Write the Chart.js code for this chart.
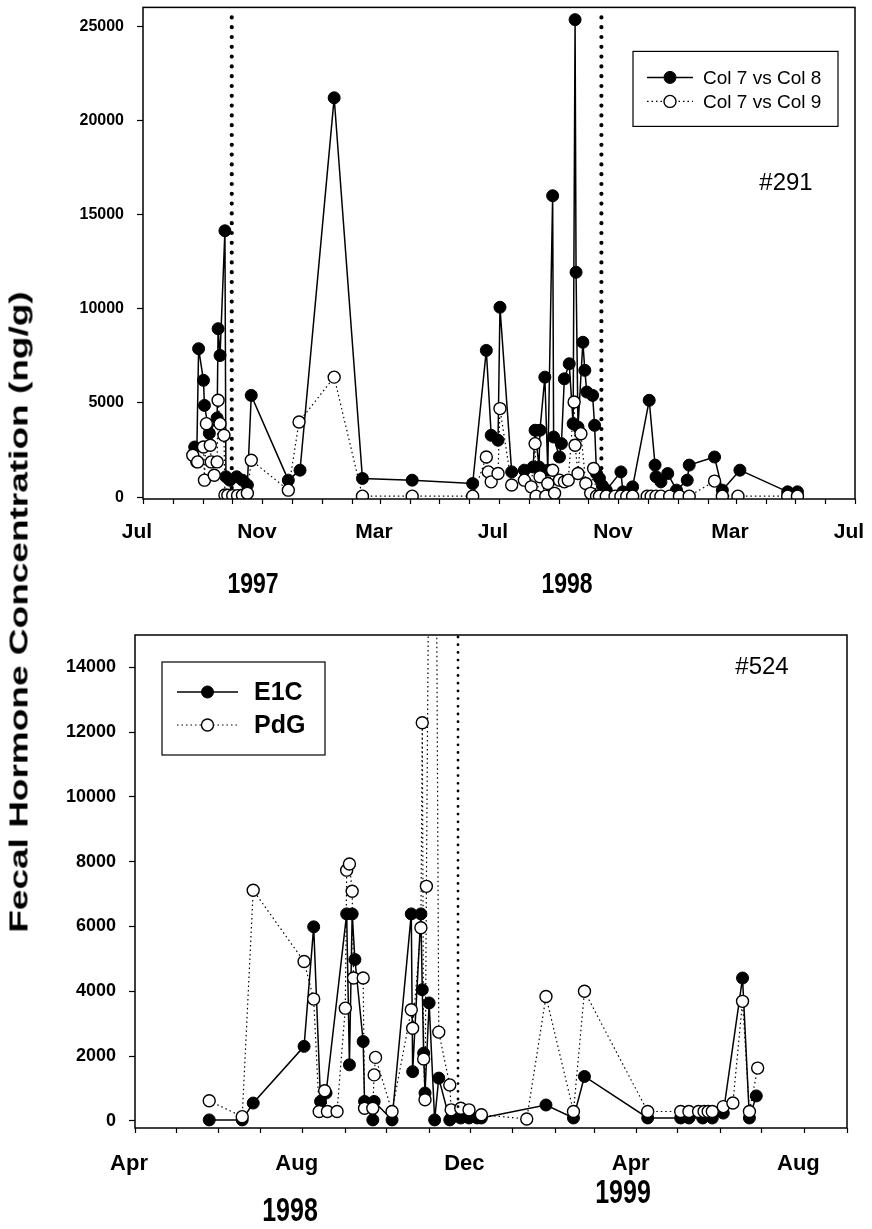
<!DOCTYPE html>
<html>
<head>
<meta charset="utf-8">
<title>Fecal hormone concentration #291 / #524</title>
<script src="https://cdn.jsdelivr.net/npm/chart.js@4.4.1/dist/chart.umd.min.js"></script>
<style>
  body { margin: 0; background: #fff; }
  #wrap { position: relative; width: 872px; height: 1229px; font-family: 'Liberation Sans', Arial, sans-serif; overflow: hidden; }
  .pane { position: absolute; left: 0; width: 872px; }
  #topPane { top: 0; height: 600px; }
  #bottomPane { top: 600px; height: 629px; }
  .txt { position: absolute; font-weight: bold; color: #000; white-space: nowrap; transform: translate(-50%, -50%) scaleY(1.3); }
  #ytitle { left: 19px; top: 612px; font-size: 25px; transform: translate(-50%, -50%) rotate(-90deg) scaleX(1.48); }
</style>
</head>
<body>
<div id="wrap">
  <div class="pane" id="topPane"><canvas id="chartTop"></canvas></div>
  <div class="pane" id="bottomPane"><canvas id="chartBottom"></canvas></div>
  <div class="txt" id="ytitle">Fecal Hormone Concentration (ng/g)</div>
</div>
<script>
// ---- #291 (top panel) ----
const col8Dates = ['1997-08-23','1997-08-25','1997-08-27','1997-09-01','1997-09-02','1997-09-07','1997-09-15','1997-09-16','1997-09-18','1997-09-23','1997-09-24','1997-09-28','1997-10-05','1997-10-11','1997-10-16','1997-10-20','1997-11-27','1997-12-09','1998-01-13','1998-02-11','1998-04-03','1998-06-04','1998-06-18','1998-06-23','1998-06-30','1998-07-02','1998-07-14','1998-07-27','1998-08-05','1998-08-07','1998-08-11','1998-08-12','1998-08-17','1998-08-20','1998-08-25','1998-08-26','1998-09-01','1998-09-03','1998-09-06','1998-09-11','1998-09-15','1998-09-17','1998-09-18','1998-09-20','1998-09-25','1998-09-27','1998-09-29','1998-10-05','1998-10-07','1998-10-09','1998-10-12','1998-10-15','1998-10-19','1998-11-03','1998-11-05','1998-11-15','1998-12-02','1998-12-08','1998-12-09','1998-12-14','1998-12-21','1998-12-30','1999-01-10','1999-01-12','1999-02-07','1999-02-15','1999-03-05','1999-04-23','1999-05-03'];
const col8Values = [2660,1870,7880,6200,4870,3390,4200,8940,7520,14140,1080,900,1080,900,640,5400,900,1430,21200,990,900,720,7790,3280,3020,10080,1340,1430,1600,3550,1600,3550,6370,1430,16000,3190,2130,2840,6280,7080,3900,25350,11940,3720,8220,6730,5580,5400,3810,1250,1000,600,370,1340,280,545,5140,1700,1080,810,1250,370,900,1700,2130,370,1430,280,280];

const col9Dates = ['1997-08-21','1997-08-26','1997-09-01','1997-09-02','1997-09-04','1997-09-08','1997-09-09','1997-09-12','1997-09-15','1997-09-16','1997-09-18','1997-09-22','1997-09-23','1997-09-26','1997-10-01','1997-10-06','1997-10-11','1997-10-16','1997-10-20','1997-11-27','1997-12-08','1998-01-13','1998-02-11','1998-04-03','1998-06-04','1998-06-18','1998-06-20','1998-06-23','1998-06-30','1998-07-02','1998-07-14','1998-07-27','1998-08-03','1998-08-07','1998-08-08','1998-08-12','1998-08-18','1998-08-20','1998-08-25','1998-08-27','1998-09-01','1998-09-06','1998-09-10','1998-09-16','1998-09-17','1998-09-20','1998-09-23','1998-09-28','1998-10-03','1998-10-06','1998-10-09','1998-10-12','1998-10-19','1998-10-28','1998-11-03','1998-11-09','1998-11-15','1998-11-30','1998-12-04','1998-12-09','1998-12-14','1998-12-23','1999-01-02','1999-01-12','1999-02-07','1999-02-15','1999-03-03','1999-04-23','1999-05-03'];
const col9Values = [2220,1870,2660,900,3900,2750,1870,1160,1870,5140,3900,3280,110,100,80,80,100,200,1960,370,3990,6370,50,50,50,2130,1340,810,1250,4700,640,900,545,2840,50,1080,50,720,1430,200,900,810,900,5050,2750,1250,3370,720,200,1520,50,50,50,50,50,50,50,50,50,50,50,50,50,50,850,50,50,50,50];

const topMarkerDates = ['1997-09-30', '1998-10-14'];
const topYTicks = [0, 5000, 10000, 15000, 20000, 25000];
const topMonthLabels = ['Jul', 'Nov', 'Mar'];
const topYearLabels = ['1997', '1998'];

// ---- #524 (bottom panel) ----
const e1cDates = ['1998-05-25','1998-06-18','1998-06-26','1998-08-02','1998-08-09','1998-08-14','1998-08-18','1998-09-02','1998-09-04','1998-09-06','1998-09-08','1998-09-14','1998-09-15','1998-09-21','1998-09-22','1998-10-05','1998-10-19','1998-10-20','1998-10-26','1998-10-27','1998-10-28','1998-10-29','1998-11-01','1998-11-05','1998-11-08','1998-11-16','1998-11-17','1998-11-24','1998-11-30','1998-12-06','1998-12-09','1999-01-25','1999-02-14','1999-02-22','1999-04-09','1999-05-03','1999-05-09','1999-05-19','1999-05-26','1999-06-03','1999-06-17','1999-06-22','1999-06-27'];
const e1cValues = [30,30,550,2300,5990,600,860,6390,1730,6390,4980,2450,600,30,600,30,6390,1520,6390,4050,2090,860,3640,30,1320,30,90,90,90,90,90,490,90,1370,90,90,90,90,90,240,4410,90,770];

const pdgDates = ['1998-05-25','1998-06-18','1998-06-26','1998-08-02','1998-08-09','1998-08-13','1998-08-17','1998-08-19','1998-08-26','1998-09-01','1998-09-02','1998-09-04','1998-09-06','1998-09-07','1998-09-14','1998-09-15','1998-09-21','1998-09-22','1998-09-23','1998-10-05','1998-10-19','1998-10-20','1998-10-26','1998-10-27','1998-10-28','1998-10-29','1998-10-30','1998-11-04','1998-11-08','1998-11-16','1998-11-17','1998-11-24','1998-11-30','1998-12-09','1999-01-11','1999-01-25','1999-02-14','1999-02-22','1999-04-09','1999-05-03','1999-05-09','1999-05-16','1999-05-20','1999-05-23','1999-05-26','1999-06-03','1999-06-10','1999-06-17','1999-06-22','1999-06-28'];
const pdgValues = [620,130,7120,4920,3760,290,930,290,290,3480,7740,7930,7090,4410,4410,390,390,1420,1960,290,3430,2860,5960,12290,1910,650,7240,37000,2740,1110,340,390,340,190,60,3840,290,4000,290,290,290,290,290,290,290,440,550,3690,290,1630];

const bottomMarkerDates = ['1998-11-22'];
const bottomYTicks = [0, 2000, 4000, 6000, 8000, 10000, 12000, 14000];
const bottomMonthLabels = ['Apr', 'Aug', 'Dec'];
const bottomYearLabels = ['1998', '1999'];

// ---- helpers ----
const DAY_MS = 86400000;
const MONTH_NAMES = ['Jan','Feb','Mar','Apr','May','Jun','Jul','Aug','Sep','Oct','Nov','Dec'];
const FONT = "'Liberation Sans', Arial, sans-serif";

function toDay(s) {
  const [y, m, d] = s.split('-').map(Number);
  return Date.UTC(y, m - 1, d) / DAY_MS;
}

function monthStarts(from, to) {
  const out = [];
  let [y, m] = from.split('-').map(Number);
  const end = toDay(to);
  while (true) {
    const v = Date.UTC(y, m - 1, 1) / DAY_MS;
    if (v > end) break;
    out.push(v);
    m++;
    if (m > 12) { m = 1; y++; }
  }
  return out;
}

function points(dates, values) {
  return dates.map((d, i) => ({ x: toDay(d), y: values[i] }));
}

// frame, dotted event lines, inset legend and animal tag
const decorPlugin = {
  id: 'decor',
  afterDatasetsDraw(chart, args, o) {
    const { ctx, chartArea: a, scales } = chart;
    ctx.save();

    // dotted vertical lines
    ctx.strokeStyle = '#000';
    ctx.lineCap = 'round';
    ctx.lineWidth = o.markerWidth;
    ctx.setLineDash([0, o.markerGap]);
    o.markers.forEach(d => {
      const x = scales.x.getPixelForValue(toDay(d));
      ctx.beginPath();
      ctx.moveTo(x, a.top + o.markerTop);
      ctx.lineTo(x, a.bottom - 2);
      ctx.stroke();
    });
    ctx.setLineDash([]);
    ctx.lineCap = 'butt';

    // frame
    ctx.lineWidth = 1.5;
    ctx.strokeRect(a.left, a.top, a.right - a.left, a.bottom - a.top);

    // legend
    const L = o.legend;
    const bx = a.left + L.x, by = a.top + L.y;
    ctx.fillStyle = '#fff';
    ctx.fillRect(bx, by, L.w, L.h);
    ctx.lineWidth = 1.2;
    ctx.strokeRect(bx, by, L.w, L.h);
    ctx.font = L.font;
    ctx.textBaseline = 'middle';
    chart.data.datasets.forEach((ds, i) => {
      const y = by + L.row0 + i * L.rowGap;
      ctx.strokeStyle = '#000';
      ctx.lineWidth = ds.borderWidth;
      ctx.setLineDash(ds.borderDash || []);
      ctx.beginPath();
      ctx.moveTo(bx + L.lineFrom, y);
      ctx.lineTo(bx + L.lineTo, y);
      ctx.stroke();
      ctx.setLineDash([]);
      ctx.beginPath();
      ctx.arc(bx + (L.lineFrom + L.lineTo) / 2, y, ds.pointRadius, 0, Math.PI * 2);
      ctx.fillStyle = ds.pointBackgroundColor;
      ctx.fill();
      ctx.lineWidth = ds.pointBorderWidth;
      ctx.stroke();
      ctx.fillStyle = '#000';
      ctx.textAlign = 'left';
      ctx.fillText(ds.label, bx + L.textX, y + 1);
    });

    // animal tag
    ctx.font = o.tagFont;
    ctx.textAlign = 'center';
    ctx.fillStyle = '#000';
    ctx.fillText(o.tag, a.left + o.tagX, a.top + o.tagY);
    ctx.restore();
  }
};

function makeChart(id, cfg) {
  const ticksX = monthStarts(cfg.xMin, cfg.xMax);
  return new Chart(document.getElementById(id), {
    type: 'line',
    data: {
      datasets: [
        {
          label: cfg.labels[0],
          data: cfg.series[0],
          borderColor: '#000',
          borderWidth: 1.5,
          pointRadius: cfg.pointRadius,
          pointBackgroundColor: '#000',
          pointBorderColor: '#000',
          pointBorderWidth: 1,
          order: 1
        },
        {
          label: cfg.labels[1],
          data: cfg.series[1],
          borderColor: '#000',
          borderWidth: 1.2,
          borderDash: [1.5, 3],
          pointRadius: cfg.pointRadius,
          pointBackgroundColor: '#fff',
          pointBorderColor: '#000',
          pointBorderWidth: 1.4,
          order: 0
        }
      ]
    },
    options: {
      responsive: true,
      maintainAspectRatio: false,
      animation: false,
      layout: { padding: cfg.padding },
      plugins: {
        legend: { display: false },
        tooltip: { enabled: false },
        decor: cfg.decor
      },
      scales: {
        x: {
          type: 'linear',
          min: toDay(cfg.xMin),
          max: toDay(cfg.xMax),
          afterBuildTicks: s => { s.ticks = ticksX.map(v => ({ value: v })); },
          afterFit: s => { s.height = cfg.xAxisHeight; s.paddingLeft = 0; s.paddingRight = 0; },
          border: { display: false },
          grid: { drawOnChartArea: false, color: '#000', tickLength: 5, tickWidth: 1.2 },
          ticks: {
            autoSkip: false,
            maxRotation: 0,
            padding: cfg.xPad,
            labelOffset: -6,
            color: '#000',
            font: { family: FONT, size: cfg.xFont, weight: 'bold' },
            callback: v => {
              const name = MONTH_NAMES[new Date(v * DAY_MS).getUTCMonth()];
              return cfg.monthLabels.includes(name) ? name : '';
            }
          }
        },
        y: {
          min: cfg.yMin,
          max: cfg.yMax,
          afterBuildTicks: s => { s.ticks = cfg.yTicks.map(v => ({ value: v })); },
          afterFit: s => { s.width = cfg.yAxisWidth; s.paddingTop = 0; s.paddingBottom = 0; },
          border: { display: false },
          grid: { drawOnChartArea: false, color: '#000', tickLength: 6, tickWidth: 1.2 },
          ticks: {
            padding: 13,
            color: '#000',
            font: { family: FONT, size: cfg.yFont, weight: 'bold' },
            callback: v => String(v)
          }
        }
      }
    },
    plugins: [decorPlugin]
  });
}

makeChart('chartTop', {
  labels: ['Col 7 vs Col 8', 'Col 7 vs Col 9'],
  series: [points(col8Dates, col8Values), points(col9Dates, col9Values)],
  xMin: '1997-07-01', xMax: '1999-07-01',
  yMin: -100, yMax: 26000, yTicks: topYTicks,
  monthLabels: topMonthLabels,
  padding: { top: 6, right: 17, left: 0, bottom: 0 },
  yAxisWidth: 143, xAxisHeight: 101,
  xPad: 16, xFont: 21, yFont: 16,
  pointRadius: 6,
  decor: {
    markers: topMarkerDates, markerWidth: 4.2, markerGap: 9.8, markerTop: 10,
    tag: '#291', tagFont: '24px ' + FONT, tagX: 643, tagY: 176,
    legend: { x: 490, y: 44, w: 205, h: 75, row0: 26, rowGap: 24,
      lineFrom: 14, lineTo: 60, textX: 70, font: '19px ' + FONT }
  }
});

makeChart('chartBottom', {
  labels: ['E1C', 'PdG'],
  series: [points(e1cDates, e1cValues), points(pdgDates, pdgValues)],
  xMin: '1998-04-01', xMax: '1999-09-01',
  yMin: -220, yMax: 15000, yTicks: bottomYTicks,
  monthLabels: bottomMonthLabels,
  padding: { top: 35, right: 25, left: 0, bottom: 0 },
  yAxisWidth: 135, xAxisHeight: 101,
  xPad: 18, xFont: 22, yFont: 18,
  pointRadius: 6,
  decor: {
    markers: bottomMarkerDates, markerWidth: 2.8, markerGap: 7.7, markerTop: 2,
    tag: '#524', tagFont: '24px ' + FONT, tagX: 627, tagY: 32,
    legend: { x: 27, y: 27, w: 163, h: 93, row0: 30, rowGap: 33,
      lineFrom: 15, lineTo: 76, textX: 92, font: 'bold 25px ' + FONT }
  }
});

// year captions under the month axes
const yearSpots = [
  { text: topYearLabels[0], x: 253, y: 583, size: 23 },
  { text: topYearLabels[1], x: 567, y: 583, size: 23 },
  { text: bottomYearLabels[0], x: 290, y: 1210, size: 25 },
  { text: bottomYearLabels[1], x: 623, y: 1192, size: 25 }
];
const wrap = document.getElementById('wrap');
yearSpots.forEach(s => {
  const el = document.createElement('div');
  el.className = 'txt';
  el.textContent = s.text;
  el.style.left = s.x + 'px';
  el.style.top = s.y + 'px';
  el.style.fontSize = s.size + 'px';
  wrap.appendChild(el);
});
</script>
</body>
</html>
